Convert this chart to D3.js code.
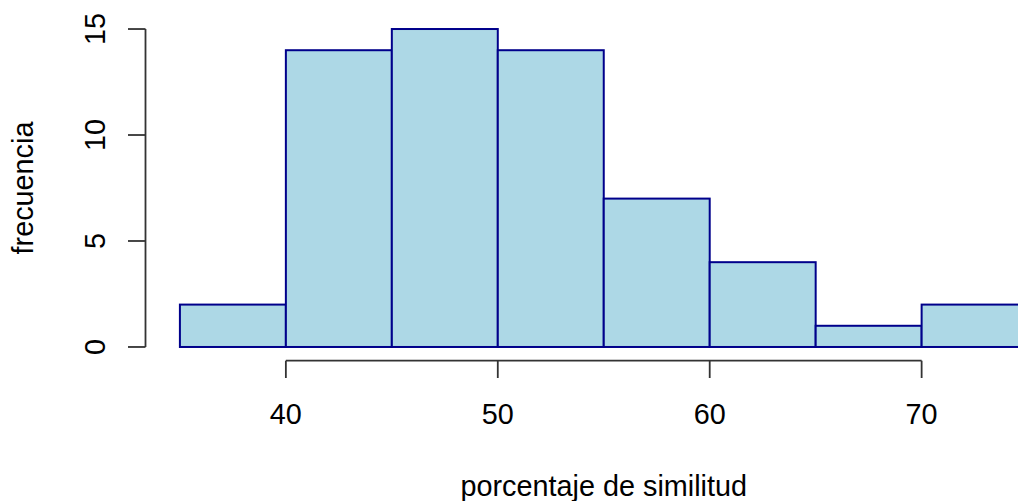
<!DOCTYPE html>
<html>
<head>
<meta charset="utf-8">
<script src="https://cdn.jsdelivr.net/npm/d3@7"></script>
<style>
  body { margin: 0; background: #ffffff; }
  svg { display: block; }
  text { font-family: "Liberation Sans", Arial, sans-serif; fill: #000; }
</style>
</head>
<body>
<svg id="canvas" width="1018" height="501"></svg>
<script>
// histogram data (bin edges + counts)
const binStarts = [35, 40, 45, 50, 55, 60, 65, 70];
const counts = [2, 14, 15, 14, 7, 4, 1, 2];
const binWidth = 5;
const xTicks = [40, 50, 60, 70];
const yTicks = [0, 5, 10, 15];
const xLabel = 'porcentaje de similitud';
const yLabel = 'frecuencia';

const svg = d3.select('#canvas');

// plot region like R: x 33.4..76.6, y -0.6..15.6
const x = d3.scaleLinear().domain([33.4, 76.6]).range([146, 1061.5]);
const y = d3.scaleLinear().domain([-0.6, 15.6]).range([359.7, 16.3]);

const bins = binStarts.map((b, i) => ({ x0: b, x1: b + binWidth, n: counts[i] }));

svg.selectAll('rect.bar')
	.data(bins)
	.enter()
	.append('rect')
	.attr('class', 'bar')
	.attr('x', (d) => x(d.x0))
	.attr('y', (d) => y(d.n))
	.attr('width', (d) => x(d.x1) - x(d.x0))
	.attr('height', (d) => y(0) - y(d.n))
	.attr('fill', '#add8e6')
	.attr('stroke', '#00008b')
	.attr('stroke-width', 2);

const fontSize = 28.8;

// x axis (R style: line between first and last tick, ticks below)
const xAxisY = 360.7;
const gx = svg.append('g');
gx.append('line')
	.attr('x1', x(xTicks[0])).attr('x2', x(xTicks[xTicks.length - 1]))
	.attr('y1', xAxisY).attr('y2', xAxisY)
	.attr('stroke', '#333').attr('stroke-width', 1.8);
gx.selectAll('line.tick')
	.data(xTicks)
	.enter()
	.append('line')
	.attr('class', 'tick')
	.attr('x1', (d) => x(d)).attr('x2', (d) => x(d))
	.attr('y1', xAxisY).attr('y2', 378)
	.attr('stroke', '#333').attr('stroke-width', 1.8);
gx.selectAll('text')
	.data(xTicks)
	.enter()
	.append('text')
	.attr('x', (d) => x(d))
	.attr('y', 424)
	.attr('text-anchor', 'middle')
	.style('font-size', fontSize + 'px')
	.text((d) => d);

// y axis
const yAxisX = 145.5;
const gy = svg.append('g');
gy.append('line')
	.attr('x1', yAxisX).attr('x2', yAxisX)
	.attr('y1', y(yTicks[0])).attr('y2', y(yTicks[yTicks.length - 1]))
	.attr('stroke', '#333').attr('stroke-width', 1.8);
gy.selectAll('line.tick')
	.data(yTicks)
	.enter()
	.append('line')
	.attr('class', 'tick')
	.attr('x1', yAxisX).attr('x2', 128)
	.attr('y1', (d) => y(d)).attr('y2', (d) => y(d))
	.attr('stroke', '#333').attr('stroke-width', 1.8);
gy.selectAll('text')
	.data(yTicks)
	.enter()
	.append('text')
	.attr('transform', (d) => 'translate(105,' + y(d) + ') rotate(-90)')
	.attr('text-anchor', 'middle')
	.style('font-size', fontSize + 'px')
	.text((d) => d);

// axis titles
svg.append('text')
	.attr('x', (x.range()[0] + x.range()[1]) / 2)
	.attr('y', 496)
	.attr('text-anchor', 'middle')
	.style('font-size', fontSize + 'px')
	.text(xLabel);

svg.append('text')
	.attr('transform', 'translate(33,' + ((y.range()[0] + y.range()[1]) / 2) + ') rotate(-90)')
	.attr('text-anchor', 'middle')
	.style('font-size', fontSize + 'px')
	.text(yLabel);
</script>
</body>
</html>
